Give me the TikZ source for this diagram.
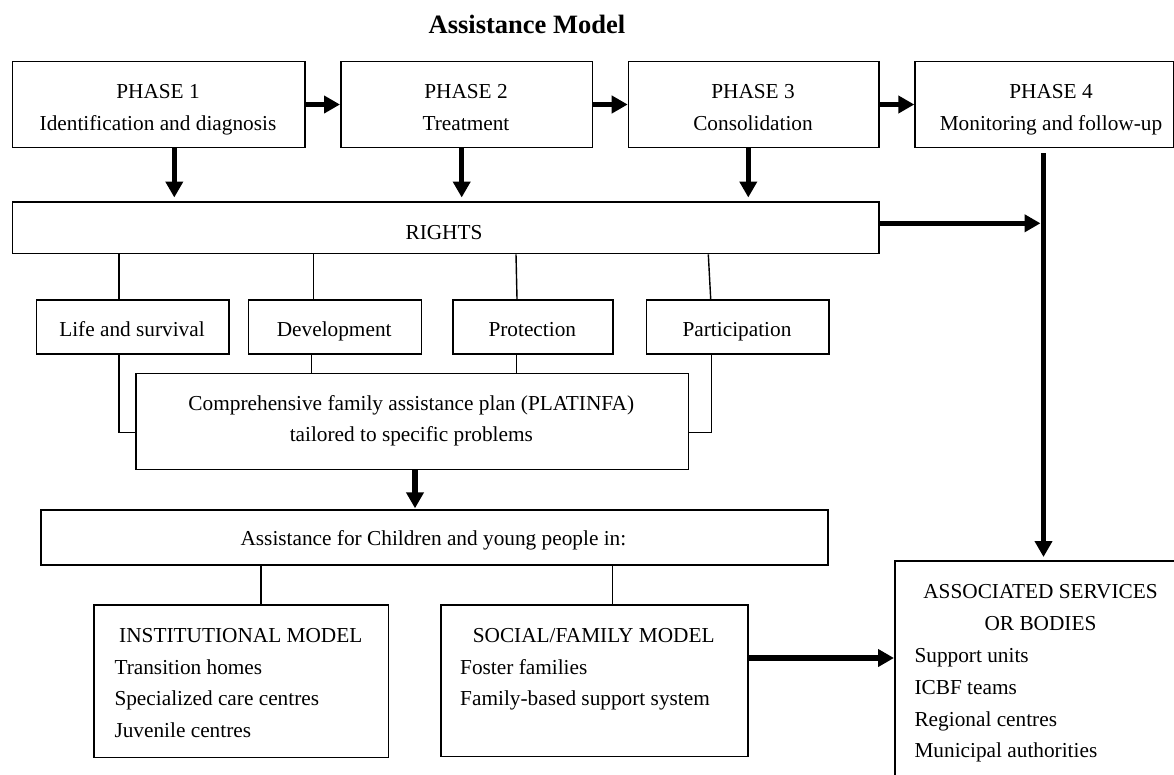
\documentclass[tikz,border=0pt]{standalone}
\usepackage{fontspec}
\setmainfont{Liberation Serif}
\usetikzlibrary{arrows.meta}
\begin{document}
\begin{tikzpicture}[x=1pt,y=-1pt,
  box/.style={draw, line width=1.6pt, inner sep=0pt, anchor=north west},
  txt/.style={anchor=base, inner sep=0pt, font=\fontsize{21.3}{32}\selectfont},
  txtl/.style={txt, anchor=base west},
  thinline/.style={line width=1.4pt},
  bigarrow/.style={line width=5.5pt, -{Triangle[length=16pt,width=17pt]}}]
\useasboundingbox (0,0) rectangle (1174,774);
\clip (0,0) rectangle (1174,774);

% title
\node[anchor=base, inner sep=0pt, font=\bfseries\fontsize{26.5}{30}\selectfont] (title) at (527,33) {Assistance Model};

% phase boxes
\node[box, minimum width=292.6pt, minimum height=86pt] (p1) at (11.7,60.7) {};
\node[box, minimum width=251.7pt, minimum height=86pt] (p2) at (340,60.7) {};
\node[box, minimum width=250.6pt, minimum height=86pt] (p3) at (627.7,60.7) {};
\node[box, minimum width=258.7pt, minimum height=86pt] (p4) at (914.3,60.7) {};
\node[txt] (p1a) at (158,98) {PHASE 1};
\node[txt] (p1b) at (158,130) {Identification and diagnosis};
\node[txt] (p2a) at (466,98) {PHASE 2};
\node[txt] (p2b) at (466,130) {Treatment};
\node[txt] (p3a) at (753,98) {PHASE 3};
\node[txt] (p3b) at (753,130) {Consolidation};
\node[txt] (p4a) at (1051,98) {PHASE 4};
\node[txt] (p4b) at (1051,130) {Monitoring and follow-up};

% rights
\node[box, minimum width=866.6pt, minimum height=51.7pt] (rights) at (11.7,201) {};
\node[txt] (rightst) at (444,239) {RIGHTS};

\node[box, minimum width=192.6pt, minimum height=54pt] (life) at (35.7,299) {};
\node[box, minimum width=173pt, minimum height=54pt] (dev) at (247.7,299) {};
\node[box, minimum width=160pt, minimum height=54pt] (prot) at (452.3,299) {};
\node[box, minimum width=182.6pt, minimum height=54pt] (part) at (645.7,299) {};
\node[txt] (lifet) at (132,336) {Life and survival};
\node[txt] (devt) at (334.2,336) {Development};
\node[txt] (prott) at (532.3,336) {Protection};
\node[txt] (partt) at (737,336) {Participation};

% platinfa
\node[box, minimum width=552.7pt, minimum height=96pt] (plat) at (135,372.7) {};
\node[txt] (plata) at (411.3,410) {Comprehensive family assistance plan (PLATINFA)};
\node[txt] (platb) at (411.3,441.7) {tailored to specific problems};

% assistance
\node[box, minimum width=787pt, minimum height=55pt] (assist) at (40,509.3) {};
\node[txt] (assistt) at (433.4,545) {Assistance for Children and young people in:};

% models
\node[box, minimum width=294.4pt, minimum height=152.7pt] (inst) at (93.3,604) {};
\node[txt] (insta) at (240.8,642.3) {INSTITUTIONAL MODEL};
\node[txtl] (instb) at (114.3,674) {Transition homes};
\node[txtl] (instc) at (114.3,705.7) {Specialized care centres};
\node[txtl] (instd) at (114.3,737.4) {Juvenile centres};

\node[box, minimum width=307.3pt, minimum height=151.7pt] (soc) at (440,604) {};
\node[txt] (soca) at (593.7,642.3) {SOCIAL/FAMILY MODEL};
\node[txtl] (socb) at (460,674) {Foster families};
\node[txtl] (socc) at (460,705.7) {Family-based support system};

% associated
\node[box, minimum width=306pt, minimum height=250pt] (assoc) at (894,560) {};
\node[txt] (assoca) at (1040.5,598.3) {ASSOCIATED SERVICES};
\node[txt] (assocb) at (1040.5,630) {OR BODIES};
\node[txtl] (assocc) at (914.3,662) {Support units};
\node[txtl] (assocd) at (914.3,694) {ICBF teams};
\node[txtl] (assoce) at (914.3,726) {Regional centres};
\node[txtl] (assocf) at (914.3,757.5) {Municipal authorities};

% helper coordinates
\coordinate (x1) at (174.3,0);
\coordinate (x2) at (461.7,0);
\coordinate (x3) at (748.3,0);
\coordinate (vtop) at (1043.5,153.3);
\coordinate (ry) at (0,223.3);
\coordinate (la) at (119,0);
\coordinate (da) at (313.3,0);
\coordinate (pa) at (516,0);
\coordinate (pb) at (517,0);
\coordinate (qa) at (708.3,0);
\coordinate (qb) at (710.7,0);
\coordinate (db) at (311.7,0);
\coordinate (pc) at (516.7,0);
\coordinate (qc) at (711.7,0);
\coordinate (xa) at (415,0);
\coordinate (xi) at (261,0);
\coordinate (xs) at (612.3,0);
\coordinate (sy) at (0,658);

% phase arrows
\draw[bigarrow] (p1) -- (p2);
\draw[bigarrow] (p2) -- (p3);
\draw[bigarrow] (p3) -- (p4);
\draw[bigarrow, shorten >=3.5pt] (p1.south -| x1) -- (rights.north -| x1);
\draw[bigarrow, shorten >=3.5pt] (p2.south -| x2) -- (rights.north -| x2);
\draw[bigarrow, shorten >=3.5pt] (p3.south -| x3) -- (rights.north -| x3);

% monitoring line
\draw[bigarrow, shorten >=3pt] (vtop) -- (vtop |- assoc.north);
\draw[bigarrow, shorten >=3pt] (rights.east |- ry) -- (vtop |- ry);

% rights connectors
\draw[thinline] (rights.south -| la) -- (life.north -| la);
\draw[thinline] (rights.south -| da) -- (dev.north -| da);
\draw[thinline] (rights.south -| pa) -- (prot.north -| pb);
\draw[thinline] (rights.south -| qa) -- (part.north -| qb);
\draw[thinline] (dev.south -| db) -- (plat.north -| db);
\draw[thinline] (prot.south -| pc) -- (plat.north -| pc);
\draw[thinline] (life.south -| la) |- ([yshift=-11pt]plat.west);
\draw[thinline] (part.south -| qc) |- ([yshift=-11pt]plat.east);

% platinfa to assistance
\draw[bigarrow, shorten >=1pt] (plat.south -| xa) -- (assist.north -| xa);
\draw[thinline] (assist.south -| xi) -- (inst.north -| xi);
\draw[thinline] (assist.south -| xs) -- (soc.north -| xs);

% social to associated
\draw[bigarrow] (soc.east |- sy) -- (assoc.west |- sy);
\end{tikzpicture}
\end{document}
